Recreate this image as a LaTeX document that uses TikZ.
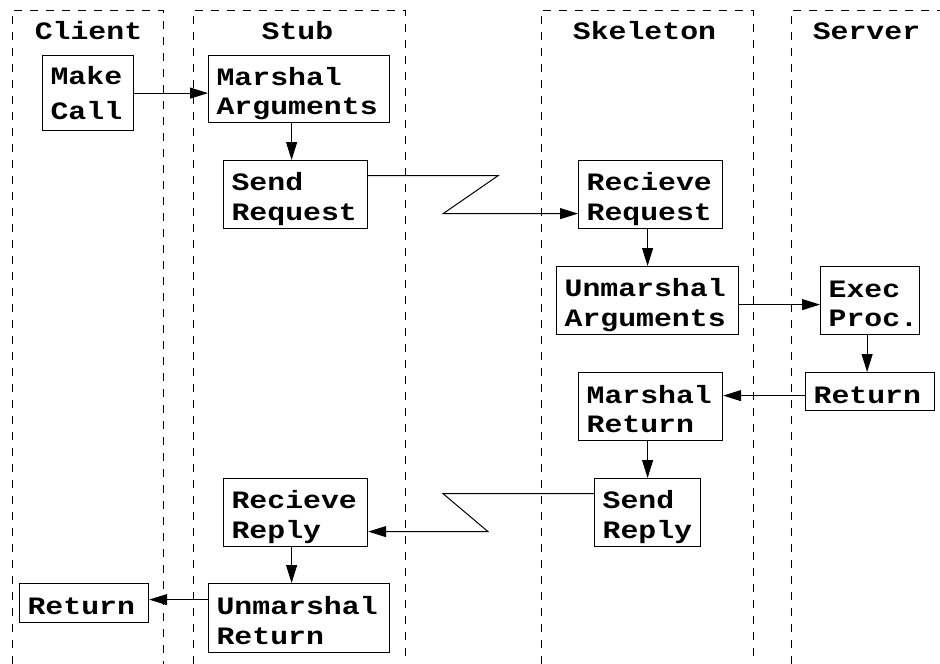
\documentclass[tikz,border=0pt]{standalone}
\usepackage{fontspec}
\setmonofont[FakeStretch=1.193]{Liberation Mono}
\usetikzlibrary{arrows.meta,calc}
\newcommand\myhs{\rule{0pt}{27pt}}
\newcommand\myds{\rule[-4pt]{0pt}{0pt}}
\tikzset{
  txt/.style={font={\fontsize{25pt}{29.5pt}\selectfont\ttfamily\bfseries}},
  box/.style={txt, draw, line width=1.2pt, anchor=north west, inner xsep=8pt, inner ysep=0pt, align=left},
  head/.style={txt, anchor=base, inner sep=0pt},
  lane/.style={draw, line width=0.9pt, dash pattern=on 8pt off 8pt},
  arr/.style={line width=1pt, -{Triangle[length=18pt,width=11pt]}}
}
\begin{document}
\begin{tikzpicture}[x=1pt,y=-1pt]
\useasboundingbox (0,0) rectangle (940,664);
% lanes
\path[lane] (12,680) -- (12,10) -- (163,10) -- (163,680);
\path[lane] (193,680) -- (193,10) -- (405,10) -- (405,680);
\path[lane] (541,680) -- (541,10) -- (753,10) -- (753,680);
\path[lane] (791,680) -- (791,10) -- (960,10);
% headers
\node[head] (hclient) at (88.5,39) {Client};
\node[head] (hstub) at (297.5,39) {Stub};
\node[head] (hskel) at (644.5,39) {Skeleton};
\node[head] (hserv) at (866.5,39) {Server};
% boxes
\node[box, text width=75pt, minimum height=75pt] (make) at (42,55) {Make\\[5.5pt]Call};
\node[box, text width=165pt, minimum height=67pt] (marg) at (208,55) {\myhs Marshal\\Arguments\myds};
\node[box, text width=128pt, minimum height=68pt] (sreq) at (223,160) {\myhs Send\\Request\myds};
\node[box, text width=128pt, minimum height=68pt] (rreq) at (578,160) {\myhs Recieve\\Request\myds};
\node[box, text width=166pt, minimum height=68pt] (uarg) at (556,266) {\myhs Unmarshal\\Arguments\myds};
\node[box, text width=83pt, minimum height=68pt] (exec) at (820,266) {\myhs Exec\\Proc.\myds};
\node[box, text width=113pt, minimum height=38pt] (sret) at (805,372) {\myhs Return\myds};
\node[box, text width=128pt, minimum height=68pt] (mret) at (578,372) {\myhs Marshal\\Return\myds};
\node[box, text width=90pt, minimum height=68pt] (srep) at (594,478) {\myhs Send\\Reply\myds};
\node[box, text width=128pt, minimum height=68pt] (rrep) at (223,478) {\myhs Recieve\\Reply\myds};
\node[box, text width=165pt, minimum height=69pt] (uret) at (208,583) {\myhs Unmarshal\\Return\myds};
\node[box, text width=113pt, minimum height=39pt] (cret) at (19,583) {\myhs Return\myds};
% connectors
\draw[arr] (make.east) -- (make.east -| marg.west);
\draw[arr] ($(sreq.north |- marg.south)+(-4,0)$) -- ($(sreq.north)+(-4,0)$);
\draw[arr] ($(sreq.east)+(0,-19)$) -- ++(130,0) -- ++(-55,38) -- ($(rreq.west)+(0,19)$);
\draw[arr] (uarg.north |- rreq.south) -- (uarg.north);
\draw[arr] ($(uarg.east)+(0,4)$) -- ($(exec.west)+(0,4)$);
\draw[arr] ($(exec.south)+(-3,0)$) -- ($(exec.south |- sret.north)+(-3,0)$);
\draw[arr] ($(sret.west)+(0,4)$) -- ($(sret.west -| mret.east)+(0,4)$);
\draw[arr] (srep.north |- mret.south) -- (srep.north);
\draw[arr] ($(srep.west)+(0,-19)$) -- ++(-151,0) -- ++(45,38) -- ($(rrep.east)+(0,19)$);
\draw[arr] ($(rrep.south)+(-4,0)$) -- ($(rrep.south |- uret.north)+(-4,0)$);
\draw[arr] ($(cret.east -| uret.west)+(0,-3.5)$) -- ($(cret.east)+(0,-3.5)$);
\end{tikzpicture}
\end{document}
